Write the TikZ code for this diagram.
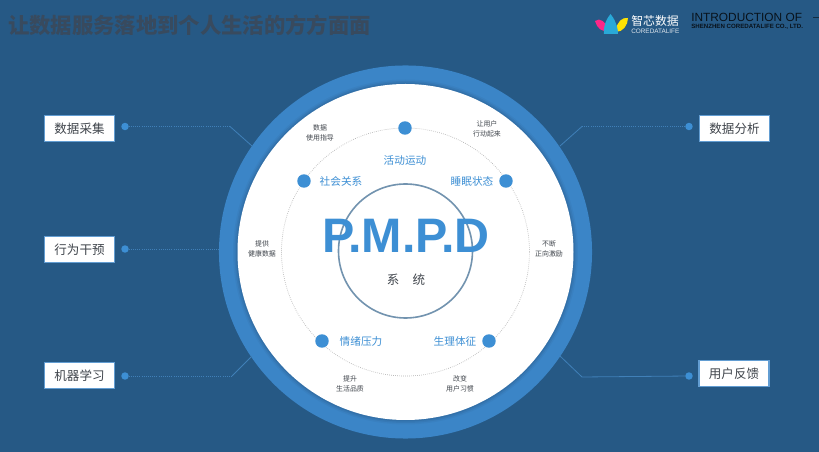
\documentclass[tikz,border=0pt]{standalone}
\usepackage{fontspec}
\setmainfont{Liberation Sans}
\newfontfamily\cjk{Noto Sans CJK SC}
\usepackage{color}
\definecolor{page}{rgb}{0.15, 0.35, 0.52}
\definecolor{ring}{rgb}{0.23, 0.52, 0.78}
\definecolor{accent}{rgb}{0.24, 0.56, 0.83}
\definecolor{ink}{rgb}{0.25, 0.27, 0.30}
\definecolor{titleink}{rgb}{0.22, 0.29, 0.37}
\definecolor{wire}{rgb}{0.25, 0.50, 0.72}
\tikzstyle{circ} = [circle,inner sep=0pt,outer sep=0pt]
\tikzstyle{dot} = [circ,fill=accent,minimum size=10.1pt]
\tikzstyle{pin} = [circ,fill=accent,minimum size=5.6pt]
\tikzstyle{box} = [draw=ring!80!white,line width=1.3pt,fill=white,text=ink,minimum width=52.5pt,minimum height=19.5pt,inner sep=0pt,font=\cjk\fontsize{9.4}{11}\selectfont]
\tikzstyle{topic} = [text=accent,inner sep=0pt,font=\cjk\fontsize{8}{10}\selectfont]
\tikzstyle{note} = [text=ink,align=center,inner sep=0pt,font=\cjk\fontsize{5.2}{8}\selectfont]
\tikzstyle{wirepath} = [wire,line width=.6pt]
\begin{document}
\begin{tikzpicture}[x=.75pt,y=-.75pt]
\useasboundingbox[fill=page] (0,0) rectangle (819,452);
% title and logo
\node [anchor=west,inner sep=0pt,text=titleink,font=\cjk\bfseries\fontsize{16}{18}\selectfont](title) at (8,25){让数据服务落地到个人生活的方方面面};
\fill[red!55!magenta!85!white] (595,21) .. controls (600,17) and (606,22) .. (608,30) .. controls (602,33) and (597,28) .. (595,21);
\fill[yellow!85!orange] (616,30) .. controls (617,22) and (622,17) .. (628,18) .. controls (628,25) and (623,32) .. (616,32);
\fill[ring!70!cyan] (610.500,14) .. controls (614,18) and (618,26) .. (618,34) -- (604,34) .. controls (603,26) and (607,18) .. (610.500,14);
\node [anchor=west,inner sep=0pt,text=white,font=\cjk\fontsize{8.9}{10}\selectfont](logotext) at (631,21){智芯数据};
\node [anchor=west,inner sep=0pt,text=white!85!page,font=\fontsize{4.8}{6}\selectfont](logosub) at (631,31){COREDATALIFE};
\node [anchor=west,inner sep=0pt,text=black!80!page,font=\fontsize{8.9}{10}\selectfont](intro) at (691,17){INTRODUCTION OF};
\node [anchor=west,inner sep=0pt,text=black!80!page,font=\bfseries\fontsize{4.6}{5}\selectfont](company) at (691,27){SHENZHEN COREDATALIFE CO., LTD.};
\coordinate (tickl) at (813,17);
\coordinate (tickr) at (819,17);
\draw[black!50!page,line width=.6pt](tickl)--(tickr);

% wheel
\node [circ,fill=ring,minimum size=279.8pt](outer) at (405.500,252){};
\foreach \r/\o in {345/.03,342/.05,339/.07}
	\fill[black,opacity=\o] (405.500,252) circle [radius=\r/2];
\node [circ,fill=white,minimum size=252pt](inner) at (405.500,252){};
\node [circ,draw=black!30,densely dotted,line width=.5pt,minimum size=186pt](track) at (405.500,252){};
\node [circ,draw=page!65!white,line width=1.2pt,minimum size=100.5pt](hub) at (405.500,251){};
\node [text=accent,inner sep=0pt,font=\bfseries\fontsize{36.3}{40}\selectfont](pmpd) at (406,236){P.M.P.D};
\node [text=ink,inner sep=0pt,font=\cjk\fontsize{9.4}{11}\selectfont](sys) at (406,280){系\hspace{1.05em}统};

\node [dot](d1) at (405,128){};
\node [dot](d2) at (304,181){};
\node [dot](d3) at (506,181){};
\node [dot](d4) at (322,341){};
\node [dot](d5) at (489,341){};
\node [topic](t1) at (405,160){活动运动};
\node [topic](t2) at (341,181){社会关系};
\node [topic](t3) at (472,181){睡眠状态};
\node [topic](t4) at (361,341){情绪压力};
\node [topic](t5) at (455,341){生理体征};

\node [note](n1) at (320,133){数据\\使用指导};
\node [note](n2) at (487,129){让用户\\行动起来};
\node [note](n3) at (549,249){不断\\正向激励};
\node [note](n4) at (262,249){提供\\健康数据};
\node [note](n5) at (350,384){提升\\生活品质};
\node [note](n6) at (460,384){改变\\用户习惯};

% side boxes
\node [box](collect) at (79.500,128.500){数据采集};
\node [box](act) at (79.500,249.500){行为干预};
\node [box](learn) at (79.500,375.500){机器学习};
\node [box](analyse) at (734.500,128.500){数据分析};
\node [box](feedback) at (734,373.500){用户反馈};

\node [pin](p1) at (125,126.500){};
\node [pin](p2) at (125,249){};
\node [pin](p3) at (125,376){};
\node [pin](p4) at (689,126.500){};
\node [pin](p5) at (689,376){};

\coordinate (c1) at (230,126.500);
\coordinate (e1) at (252,146);
\coordinate (e2) at (219,249);
\coordinate (c3) at (232,376);
\coordinate (e3) at (252,356);
\coordinate (c4) at (582,126.500);
\coordinate (e4) at (560,146);
\coordinate (c5) at (582,377);
\coordinate (e5) at (560,356);
\draw[wirepath,densely dotted](p1)--(c1);
\draw[wirepath](c1)--(e1);
\draw[wirepath,densely dotted](p2)--(e2);
\draw[wirepath,densely dotted](p3)--(c3);
\draw[wirepath](c3)--(e3);
\draw[wirepath,densely dotted](p4)--(c4);
\draw[wirepath](c4)--(e4);
\draw[wirepath](p5)--(c5);
\draw[wirepath](c5)--(e5);
\end{tikzpicture}
\end{document}
